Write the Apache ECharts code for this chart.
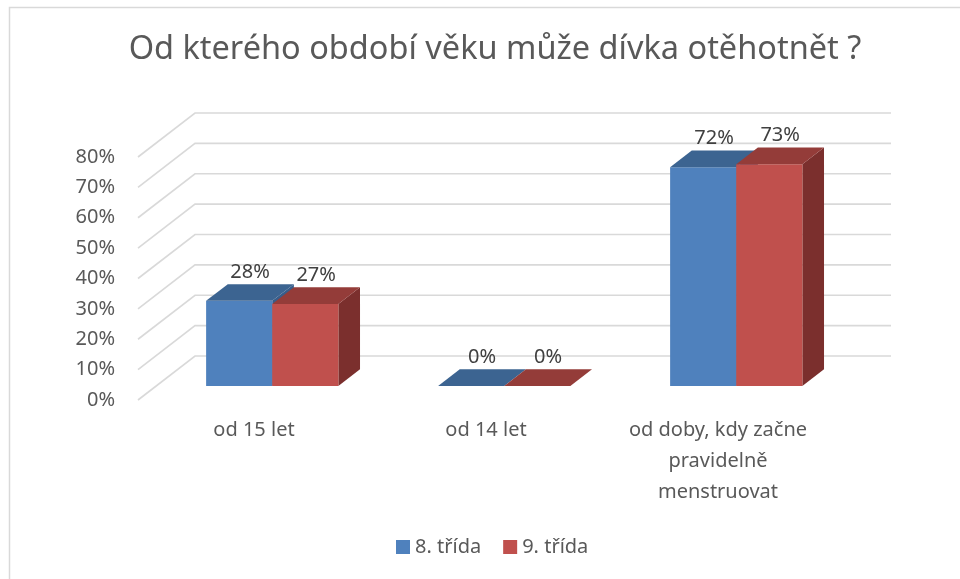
<!DOCTYPE html>
<html>
<head>
<meta charset="utf-8">
<script src="https://cdn.jsdelivr.net/npm/echarts@6/dist/echarts.min.js"></script>
<style>
  html, body { margin: 0; padding: 0; background: #fff; }
  #chart { width: 960px; height: 579px; }
</style>
</head>
<body>
<div id="chart"></div>
<script>
const categories = ['od 15 let', 'od 14 let', 'od doby, kdy začne\npravidelně\nmenstruovat']
const seriesNames = ['8. třída', '9. třída']
const trida8 = [28, 0, 72]
const trida9 = [27, 0, 73]
const yTicks = [0, 10, 20, 30, 40, 50, 60, 70, 80]

const FONT = 'Noto Sans'
// depth of the floor/wall and where the bars sit in it
const DX = 57, DY = -44
const FRONT = 0.32, BACK = 0.70
const BAR_FRAC = 0.285

const faces = [
  { front: '#4F81BD', top: '#3C6491', side: '#385D8A' },
  { front: '#C0504D', top: '#943C39', side: '#7B2F2D' }
]

function barRenderer(idx) {
  return function (params, api) {
    const cat = api.value(0)
    const val = api.value(1)
    const top = api.coord([cat, val])
    const base = api.coord([cat, 0])
    const band = api.size([1, 0])[0]
    const w = band * BAR_FRAC
    const fx = DX * FRONT, fy = DY * FRONT
    const bx = DX * (BACK - FRONT), by = DY * (BACK - FRONT)
    const x0 = top[0] + (idx === 0 ? -w : 0) + fx
    const x1 = x0 + w
    const yt = top[1] + fy
    const yb = base[1] + fy
    const c = faces[idx]
    const children = []
    if (yb - yt > 0.5) {
      children.push({
        type: 'polygon',
        shape: { points: [[x1, yt], [x1 + bx, yt + by], [x1 + bx, yb + by], [x1, yb]] },
        style: { fill: c.side }
      })
      children.push({
        type: 'rect',
        shape: { x: x0, y: yt, width: w, height: yb - yt },
        style: { fill: c.front }
      })
    }
    children.push({
      type: 'polygon',
      shape: { points: [[x0, yt], [x0 + bx, yt + by], [x1 + bx, yt + by], [x1, yt]] },
      style: { fill: c.top }
    })
    children.push({
      type: 'text',
      style: {
        text: val + '%',
        x: (x0 + x1) / 2 + bx / 2,
        y: yt + by - 2,
        align: 'center',
        verticalAlign: 'bottom',
        fill: '#404040',
        font: '20px "' + FONT + '"'
      }
    })
    return { type: 'group', children: children }
  }
}

function wallRenderer(params, api) {
  const y = api.coord([0, api.value(1)])[1]
  const cs = params.coordSys
  return {
    type: 'polyline',
    shape: { points: [[cs.x, y], [cs.x + DX, y + DY], [cs.x + cs.width + DX, y + DY]] },
    style: { stroke: '#D9D9D9', lineWidth: 1.6, fill: null }
  }
}

const chart = echarts.init(document.getElementById('chart'))
chart.setOption({
  backgroundColor: '#fff',
  animation: false,
  textStyle: { fontFamily: FONT },
  title: {
    text: 'Od kterého období věku může dívka otěhotnět ?',
    left: 490,
    top: 28,
    textAlign: 'center',
    textStyle: { fontFamily: FONT, fontSize: 32.5, fontWeight: 'normal', color: '#595959' }
  },
  graphic: [{
    type: 'rect',
    shape: { x: 9.5, y: 7.5, width: 1000, height: 1000 },
    style: { fill: null, stroke: '#D9D9D9', lineWidth: 1.5 },
    silent: true
  }],
  legend: {
    left: 391,
    top: 532,
    icon: 'rect',
    itemWidth: 14,
    itemHeight: 14,
    itemGap: 22,
    itemTextGap: 5,
    textStyle: { fontFamily: FONT, fontSize: 20, color: '#595959' },
    data: seriesNames
  },
  grid: { left: 138, top: 157, width: 696, height: 243 },
  xAxis: {
    type: 'category',
    data: categories,
    axisLine: { show: false },
    axisTick: { show: false },
    axisLabel: {
      margin: 15,
      fontSize: 20,
      lineHeight: 31,
      color: '#595959',
      fontFamily: FONT
    }
  },
  yAxis: {
    type: 'value',
    min: 0,
    max: 80,
    interval: 10,
    axisLine: { show: false },
    axisTick: { show: false },
    splitLine: { show: false },
    axisLabel: {
      formatter: '{value}%',
      margin: 23,
      fontSize: 20,
      color: '#595959',
      fontFamily: FONT
    }
  },
  series: [
    {
      type: 'custom',
      silent: true,
      renderItem: wallRenderer,
      data: yTicks.map(v => [0, v]),
      z: 1
    },
    {
      name: seriesNames[0],
      type: 'custom',
      renderItem: barRenderer(0),
      itemStyle: { color: faces[0].front },
      data: trida8.map((v, i) => [i, v]),
      z: 2
    },
    {
      name: seriesNames[1],
      type: 'custom',
      renderItem: barRenderer(1),
      itemStyle: { color: faces[1].front },
      data: trida9.map((v, i) => [i, v]),
      z: 3
    }
  ]
})
</script>
</body>
</html>
